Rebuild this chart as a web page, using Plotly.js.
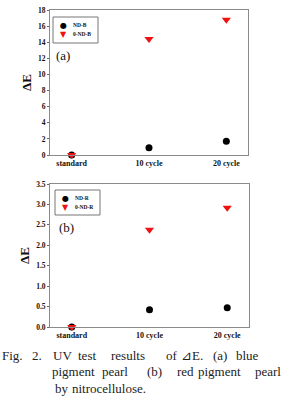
<!DOCTYPE html>
<html><head><meta charset="utf-8">
<script src="https://cdn.plot.ly/plotly-3.0.1.min.js"></script>
<style>html,body{margin:0;padding:0;background:#fff;}#c{width:282px;height:401px;}</style>
</head><body><div id="c"></div>
<script>
const categories = ["standard", "10 cycle", "20 cycle"];
const ndB = [0, 0.9, 1.7];
const oNdB = [0, 14.4, 16.8];
const ndR = [0, 0.42, 0.47];
const oNdR = [0, 2.38, 2.92];
const topTicks = [0, 2, 4, 6, 8, 10, 12, 14, 16, 18];
const botTicks = [0, 0.5, 1.0, 1.5, 2.0, 2.5, 3.0, 3.5];
const topNames = ["ND-B", "0-ND-B"];
const botNames = ["ND-R", "0-ND-R"];

const W = 282, H = 401;
const px = x => x / W, py = y => 1 - y / H;
const SERIF = "Liberation Serif";
const RED = "#ee1111";

const traces = [
  {x: categories, y: ndB, name: topNames[0], mode: "markers", type: "scatter", xaxis: "x", yaxis: "y",
   marker: {symbol: "circle", size: 7, color: "#000"}, cliponaxis: false},
  {x: categories, y: oNdB, name: topNames[1], mode: "markers", type: "scatter", xaxis: "x", yaxis: "y",
   marker: {symbol: "triangle-down", size: 8, color: RED}, cliponaxis: false},
  {x: categories, y: ndR, name: botNames[0], mode: "markers", type: "scatter", xaxis: "x2", yaxis: "y2",
   marker: {symbol: "circle", size: 7, color: "#000"}, cliponaxis: false},
  {x: categories, y: oNdR, name: botNames[1], mode: "markers", type: "scatter", xaxis: "x2", yaxis: "y2",
   marker: {symbol: "triangle-down", size: 8, color: RED}, cliponaxis: false}
];

const axX = dom => ({domain: dom, type: "category", range: [-0.28, 2.28], showline: true, mirror: true,
  linecolor: "#8a8a8a", linewidth: 1, ticks: "", showgrid: false, zeroline: false,
  tickfont: {family: SERIF, size: 8, color: "#111", weight: "bold"}});
const axY = (dom, tv, fmt) => ({domain: dom, showline: true, mirror: true, linecolor: "#8a8a8a", linewidth: 1,
  ticks: "outside", ticklen: 2, tickcolor: "#666", showgrid: false, zeroline: false, tickvals: tv,
  tickformat: fmt, tickfont: {family: SERIF, size: 7.5, color: "#111", weight: "bold"},
  title: {text: "ΔE", font: {family: SERIF, size: 13, color: "#111", weight: "bold"}, standoff: 3}});

const topY = axY([py(155), py(10)], topTicks, "d"); topY.range = [0, 18]; topY.anchor = "x";
const botY = axY([py(327), py(184)], botTicks, ".1f"); botY.range = [0, 3.5]; botY.anchor = "x2";

const ann = [];
const shapes = [];
const addText = (t, x, y, size, opts) => ann.push(Object.assign({text: t, x: px(x), y: py(y), xref: "paper", yref: "paper",
  xanchor: "left", yanchor: "middle", showarrow: false, font: {family: SERIF, size: size, color: "#222"}}, opts || {}));

function legendBox(x0, y0, x1, y1, names) {
  shapes.push({type: "rect", xref: "paper", yref: "paper", x0: px(x0), x1: px(x1), y0: py(y0), y1: py(y1),
    line: {color: "#777", width: 1}, fillcolor: "#fff"});
  const r1 = y0 + 8, r2 = y0 + 17;
  addText("●", x0 + 10, r1, 8, {xanchor: "center", font: {family: "DejaVu Sans", size: 8, color: "#000"}});
  addText("▼", x0 + 10, r2, 8, {xanchor: "center", font: {family: "DejaVu Sans", size: 8, color: RED}});
  addText(names[0], x0 + 18, r1, 5.5, {font: {family: SERIF, size: 5.5, color: "#111", weight: "bold"}});
  addText(names[1], x0 + 18, r2, 5.5, {font: {family: SERIF, size: 5.5, color: "#111", weight: "bold"}});
}
legendBox(53, 17, 98, 43, topNames);
legendBox(55, 190, 100, 215, botNames);

addText("(a)", 54, 56, 13, {font: {family: SERIF, size: 13, color: "#111"}});
addText("(b)", 57, 227, 13, {font: {family: SERIF, size: 13, color: "#111"}});
// caption words: [text, x, anchor]
const line1 = [["Fig.", 0, "left"], ["2.", 37, "center"], ["UV", 62, "center"], ["test", 87, "center"], ["results", 128, "center"],
  ["of", 172, "center"], ["⊿E.", 192, "center"], ["(a)", 220, "center"], ["blue", 234, "left"]];
const line2 = [["pigment", 73, "center"], ["pearl", 115, "center"], ["(b)", 154, "center"], ["red", 185, "center"],
  ["pigment", 219.5, "center"], ["pearl", 253, "left"]];
const line3 = [["by", 53, "left"], ["nitrocellulose.", 70, "left"]];
line1.forEach(w => addText(w[0], w[1], 355, 13, {xanchor: w[2]}));
line2.forEach(w => addText(w[0], w[1], 371, 13, {xanchor: w[2]}));
line3.forEach(w => addText(w[0], w[1], 388, 13, {xanchor: w[2]}));

const layout = {
  width: W, height: H, margin: {l: 0, r: 0, t: 0, b: 0}, paper_bgcolor: "#fff", plot_bgcolor: "#fff",
  xaxis: Object.assign(axX([px(50), px(248)]), {anchor: "y"}), yaxis: topY,
  xaxis2: Object.assign(axX([px(50), px(249)]), {anchor: "y2"}), yaxis2: botY,
  showlegend: false, annotations: ann, shapes: shapes
};
Plotly.newPlot("c", traces, layout, {staticPlot: true, displayModeBar: false});
</script></body></html>
